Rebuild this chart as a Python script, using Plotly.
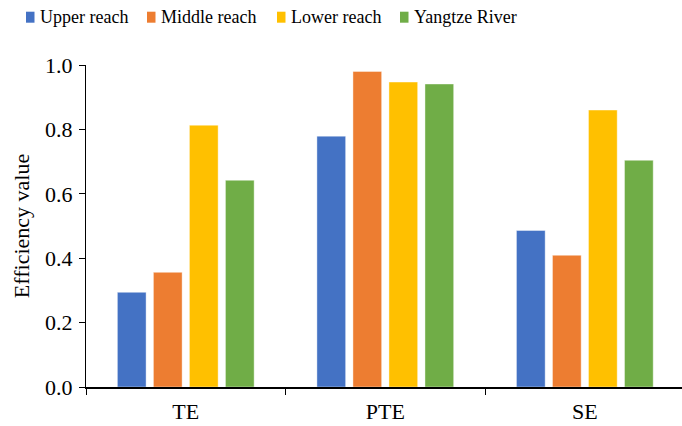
import plotly.graph_objects as go

categories = ["TE", "PTE", "SE"]
series_names = ["Upper reach", "Middle reach", "Lower reach", "Yangtze River"]
upper_reach = [0.294, 0.779, 0.486]
middle_reach = [0.356, 0.980, 0.409]
lower_reach = [0.813, 0.947, 0.860]
yangtze_river = [0.642, 0.941, 0.704]
y_ticks = [0.0, 0.2, 0.4, 0.6, 0.8, 1.0]

colors = ["#4472C4", "#ED7D31", "#FFC000", "#70AD47"]
values = [upper_reach, middle_reach, lower_reach, yangtze_river]

font_family = "Liberation Serif, Times New Roman, serif"

W, H = 682, 426
M_L, M_R, M_T, M_B = 86, 0, 65, 39
PW, PH = W - M_L - M_R, H - M_T - M_B


def px_to_paper(px, py):
    return (px - M_L) / PW, (H - M_B - py) / PH


fig = go.Figure()
for name, vals, col in zip(series_names, values, colors):
    fig.add_trace(go.Bar(
        x=categories, y=vals, name=name, showlegend=False,
        marker=dict(color=col, line=dict(color="rgba(255,255,255,0.5)", width=0.8)),
    ))

# Compact legend row along the top: small square swatch followed by its label
legend_x = [26, 147, 277, 400]
swatch_w, swatch_h, legend_cy = 8.5, 11, 17.2
for lx, name, col in zip(legend_x, series_names, colors):
    x0, y0 = px_to_paper(lx, legend_cy + swatch_h / 2)
    x1, y1 = px_to_paper(lx + swatch_w, legend_cy - swatch_h / 2)
    fig.add_shape(type="rect", xref="paper", yref="paper", x0=x0, y0=y0, x1=x1, y1=y1,
                  fillcolor=col, line=dict(width=0))
    tx, ty = px_to_paper(lx + swatch_w + 3.5, legend_cy)
    fig.add_annotation(xref="paper", yref="paper", x=tx, y=ty, text=name, showarrow=False,
                       xanchor="left", yanchor="middle",
                       font=dict(family=font_family, size=18, color="black"))

fig.update_layout(
    width=W, height=H,
    margin=dict(l=M_L, r=M_R, t=M_T, b=M_B),
    paper_bgcolor="white", plot_bgcolor="white",
    font=dict(family=font_family, size=22, color="black"),
    barmode="group", bargap=0.278, bargroupgap=0.203,
    showlegend=False,
    xaxis=dict(
        range=[-0.5, 2.487], showline=True, linecolor="black", linewidth=1.5,
        ticks="outside", tickson="boundaries", ticklen=6, tickcolor="black",
        tickfont=dict(family=font_family, size=22), showgrid=False,
        ticklabelstandoff=4, fixedrange=True,
    ),
    yaxis=dict(
        range=[0, 1.0], tickvals=y_ticks, ticktext=[f"{v:.1f}" for v in y_ticks],
        showline=True, linecolor="black", linewidth=1, ticks="outside",
        ticklen=6, tickcolor="black", showgrid=False, zeroline=False,
        tickfont=dict(family=font_family, size=22), ticklabelstandoff=2,
        title=dict(text="Efficiency value", font=dict(family=font_family, size=22), standoff=9),
    ),
)

fig.write_html("out.html")
